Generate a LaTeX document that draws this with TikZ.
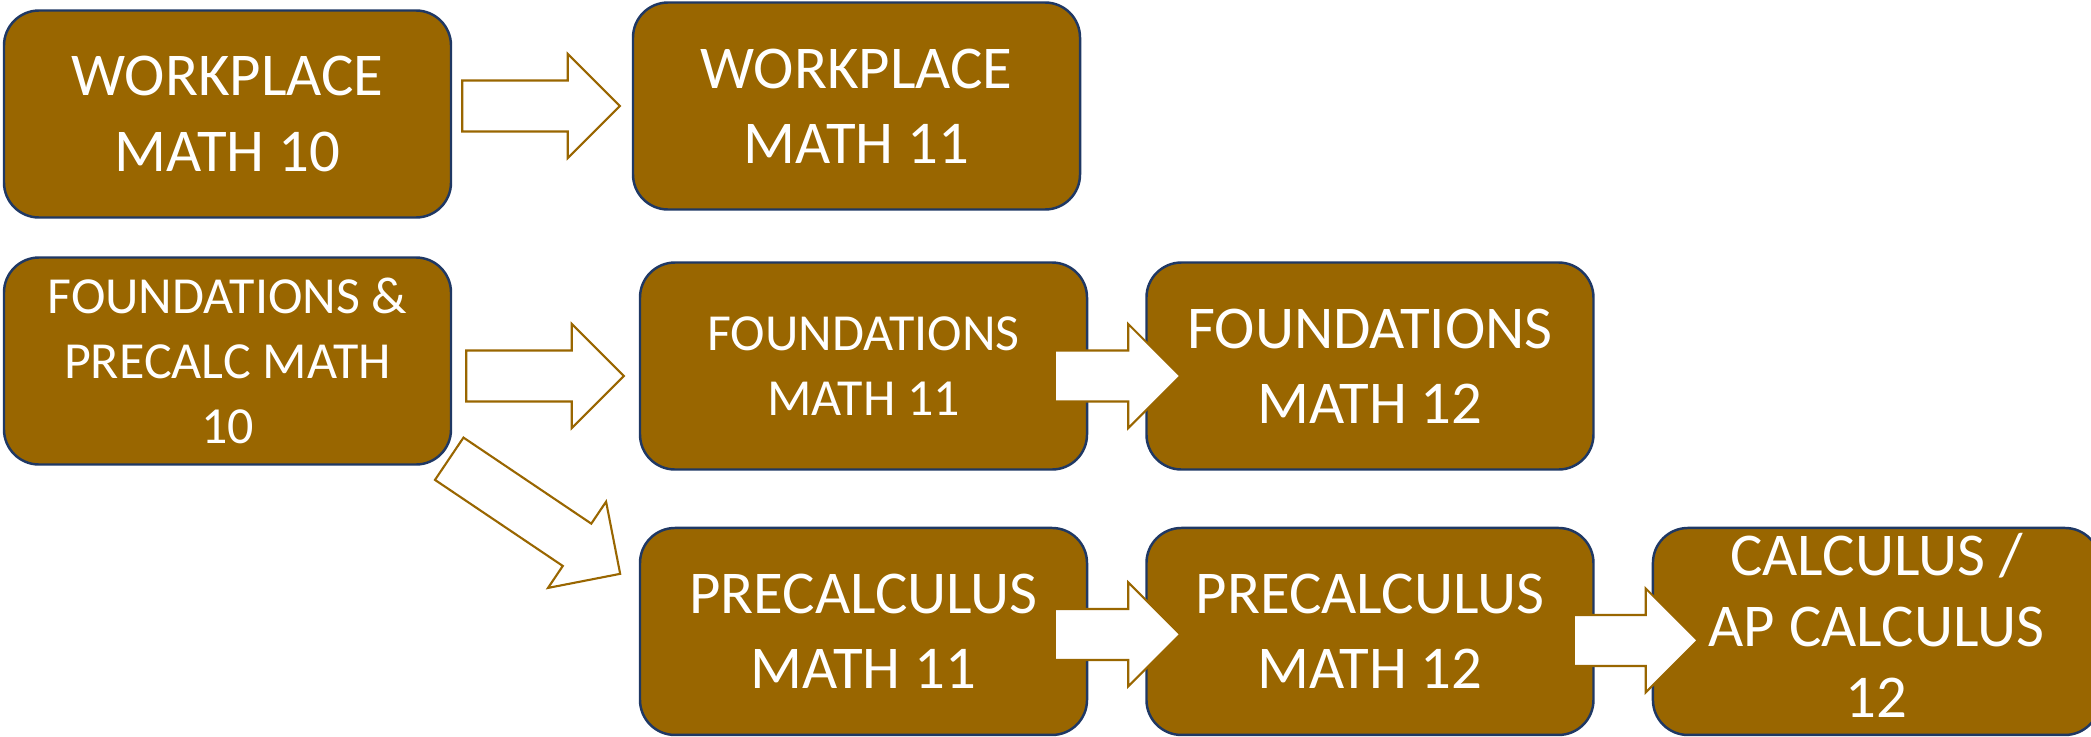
\documentclass[tikz,border=0pt]{standalone}
\usepackage{fontspec}
\setmainfont{Carlito}
\usetikzlibrary{positioning,calc}

\definecolor{coursebrown}{RGB}{153,102,0}
\definecolor{courseedge}{RGB}{31,56,100}

\tikzset{
  course/.style={draw=courseedge, line width=0.7pt, fill=coursebrown, rounded corners=0.35cm,
    minimum width=4.47cm, minimum height=2.07cm, text=white, align=center, inner sep=0pt},
  bigtext/.style={font=\fontsize{17.3}{21.4}\selectfont},
  smalltext/.style={font=\fontsize{14.8}{18.6}\selectfont},
  barrow/.style={draw=coursebrown, line width=0.6pt, fill=white, line join=miter}
}

% block arrow from #1 (tail middle) to #2 (tip)
\newcommand{\blockarrow}[2]{%
  \coordinate (hb) at ($(#2)!0.52cm!(#1)$);
  \draw[barrow] ($(#1)!0.255cm!90:(#2)$) -- ($(hb)!0.255cm!90:(#2)$) -- ($(hb)!0.52cm!90:(#2)$)
    -- (#2) -- ($(hb)!0.52cm!-90:(#2)$) -- ($(hb)!0.255cm!-90:(#2)$) -- ($(#1)!0.255cm!-90:(#2)$) -- cycle;
}

\begin{document}
\begin{tikzpicture}
\useasboundingbox (0,0) rectangle (20.91,-7.36);
% Courses
\node[course, bigtext] (wp10) at (2.275,-1.14) {WORKPLACE\\MATH 10};
\node[course, bigtext] (wp11) at (8.565,-1.06) {WORKPLACE\\MATH 11};
\node[course, smalltext] (fp10) at (2.275,-3.61) {FOUNDATIONS \&\\PRECALC MATH\\10};
\node[course, smalltext] (fnd11) at (8.635,-3.66) {FOUNDATIONS\\MATH 11};
\node[course, bigtext, right=0.57cm of fnd11] (fnd12) {FOUNDATIONS\\MATH 12};
\node[course, bigtext, below=0.56cm of fnd11] (pc11) {PRECALCULUS\\MATH 11};
\node[course, bigtext, right=0.57cm of pc11] (pc12) {PRECALCULUS\\MATH 12};
\node[course, right=0.57cm of pc12] (calc) {};

% Arrows
\coordinate (a1s) at ($(wp10.east |- wp11.west)+(0.10,0)$);
\coordinate (a1e) at ($(wp11.west)+(-0.12,0)$);
\blockarrow{a1s}{a1e}
\coordinate (a2s) at ($(fp10.east)+(0.14,-0.15)$);
\coordinate (a2e) at ($(fnd11.west)+(-0.15,-0.10)$);
\blockarrow{a2s}{a2e}
\coordinate (a3s) at ($(fnd11.east)+(-0.335,-0.10)$);
\coordinate (a3e) at ($(fnd12.west)+(0.35,-0.10)$);
\blockarrow{a3s}{a3e}
\coordinate (a4s) at ($(pc11.east)+(-0.335,-0.03)$);
\coordinate (a4e) at ($(pc12.west)+(0.35,-0.03)$);
\blockarrow{a4s}{a4e}
\coordinate (a5s) at ($(pc12.east)+(-0.21,-0.09)$);
\coordinate (a5e) at ($(calc.west)+(0.46,-0.09)$);
\blockarrow{a5s}{a5e}
\coordinate (a6s) at ($(fp10.south east)+(-0.03,0.07)$);
\coordinate (a6e) at ($(pc11.north west)+(-0.186,-0.471)$);
\blockarrow{a6s}{a6e}

% Text that runs out of the last box
\node[text=white, align=center, font=\fontsize{17.3}{20.2}\selectfont, inner sep=0pt] (calctext) at ($(calc.center)+(0,0.06)$) {CALCULUS /\\AP CALCULUS\\12};
\end{tikzpicture}
\end{document}
